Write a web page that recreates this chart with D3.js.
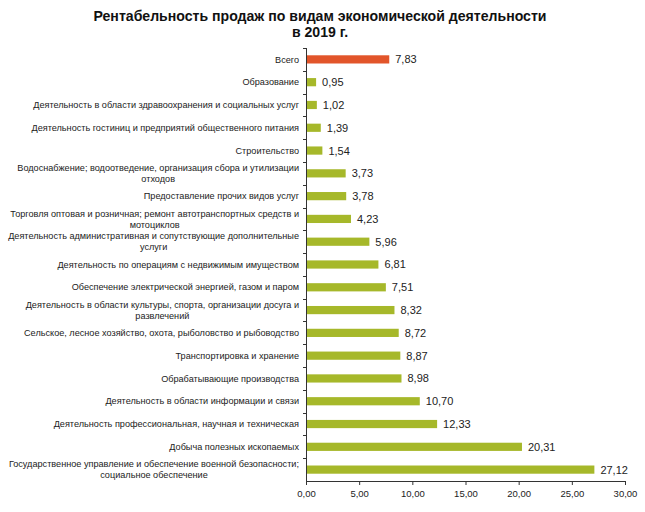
<!DOCTYPE html>
<html><head><meta charset="utf-8">
<script src="https://cdn.jsdelivr.net/npm/d3@7"></script>
<style>
html,body{margin:0;padding:0;background:#fff;}
svg{display:block;font-family:"Liberation Sans",Arial,sans-serif;}
</style></head>
<body>
<svg id="chart" width="645" height="512"></svg>
<script>
const titleLines = ["Рентабельность продаж по видам экономической деятельности", "в 2019 г."];
const categories = [
  "Всего",
  "Образование",
  "Деятельность в области здравоохранения и социальных услуг",
  "Деятельность гостиниц и предприятий общественного питания",
  "Строительство",
  "Водоснабжение; водоотведение, организация сбора и утилизации|отходов",
  "Предоставление прочих видов услуг",
  "Торговля оптовая и розничная; ремонт автотранспортных средств и|мотоциклов",
  "Деятельность административная и сопутствующие дополнительные|услуги",
  "Деятельность по операциям с недвижимым имуществом",
  "Обеспечение электрической энергией, газом и паром",
  "Деятельность в области культуры, спорта, организации досуга и|развлечений",
  "Сельское, лесное хозяйство, охота, рыболовство и рыбоводство",
  "Транспортировка и хранение",
  "Обрабатывающие производства",
  "Деятельность в области информации и связи",
  "Деятельность профессиональная, научная и техническая",
  "Добыча полезных ископаемых",
  "Государственное управление и обеспечение военной безопасности;|социальное обеспечение"
];
const values = [7.83, 0.95, 1.02, 1.39, 1.54, 3.73, 3.78, 4.23, 5.96, 6.81, 7.51, 8.32, 8.72, 8.87, 8.98, 10.70, 12.33, 20.31, 27.12];
const xTicks = [0, 5, 10, 15, 20, 25, 30];

const data = categories.map((c, i) => ({cat: c, value: values[i], idx: i}));
const svg = d3.select("#chart");
const locale = d3.formatLocale({decimal: ",", thousands: " ", grouping: [3], currency: ["", ""]});
const fmt = locale.format(".2f");

const x = d3.scaleLinear().domain([0, 30]).range([306, 625]);
const y = d3.scaleBand().domain(d3.range(categories.length)).range([48, 481]).paddingInner(0.64).paddingOuter(0.32);
const step = y.step();

// title
svg.append("g").selectAll("text").data(titleLines).join("text")
  .attr("x", 320).attr("y", (d, i) => 21 + i * 16)
  .attr("text-anchor", "middle")
  .attr("font-size", 14.1).attr("font-weight", "bold").attr("fill", "#111")
  .text(d => d);

// bars
svg.append("g").selectAll("rect").data(data).join("rect")
  .attr("x", x(0) + 1)
  .attr("y", d => y(d.idx))
  .attr("width", d => x(d.value) - x(0) - 1)
  .attr("height", y.bandwidth())
  .attr("fill", d => d.idx === 0 ? "#e2552a" : "#a6b82a");

// value labels
svg.append("g").selectAll("text").data(data).join("text")
  .attr("x", d => x(d.value) + 6)
  .attr("y", d => y(d.idx) + y.bandwidth() / 2)
  .attr("dy", "0.36em")
  .attr("font-size", 11).attr("fill", "#222")
  .text(d => fmt(d.value));

// category labels
const catG = svg.append("g").selectAll("text").data(data).join("text")
  .attr("text-anchor", "end")
  .attr("font-size", 9.15).attr("fill", "#222")
  .attr("transform", d => `translate(299,${y(d.idx) + y.bandwidth() / 2})`);
catG.each(function(d) {
  const lines = d.cat.split("|");
  const t = d3.select(this);
  const lh = 11;
  const off = -(lines.length - 1) * lh / 2;
  lines.forEach((ln, i) => {
    t.append("tspan").attr("x", 0)
      .attr("y", off + i * lh).attr("dy", "0.35em").text(ln);
  });
});
// center continuation lines of wrapped labels under the first line
catG.each(function(d) {
  const spans = d3.select(this).selectAll("tspan").nodes();
  if (spans.length > 1) {
    const w0 = spans[0].getComputedTextLength();
    const center = -w0 / 2;
    spans.slice(1).forEach(s => {
      d3.select(s).attr("x", center).attr("text-anchor", "middle");
    });
  }
});

// y axis
const ya = svg.append("g").attr("stroke", "#333").attr("stroke-width", 1);
ya.append("line").attr("x1", x(0) + 0.5).attr("x2", x(0) + 0.5).attr("y1", y.range()[0]).attr("y2", 481);
ya.selectAll("line.tk").data(d3.range(categories.length)).join("line").attr("class", "tk")
  .attr("x1", x(0) - 3).attr("x2", x(0))
  .attr("y1", i => Math.round(y.range()[0] + i * step) + 0.5)
  .attr("y2", i => Math.round(y.range()[0] + i * step) + 0.5);

// x axis
const xAxis = d3.axisBottom(x).tickValues(xTicks).tickFormat(fmt).tickSizeInner(4).tickSizeOuter(0);
const xg = svg.append("g").attr("transform", "translate(0,481)").call(xAxis);
xg.select(".domain").attr("stroke", "#333");
xg.selectAll(".tick line").attr("stroke", "#333");
xg.selectAll(".tick text").attr("font-size", 9.5).attr("fill", "#222").attr("font-family", "Liberation Sans, Arial, sans-serif").attr("dy", "0.9em");
</script>
</body></html>
